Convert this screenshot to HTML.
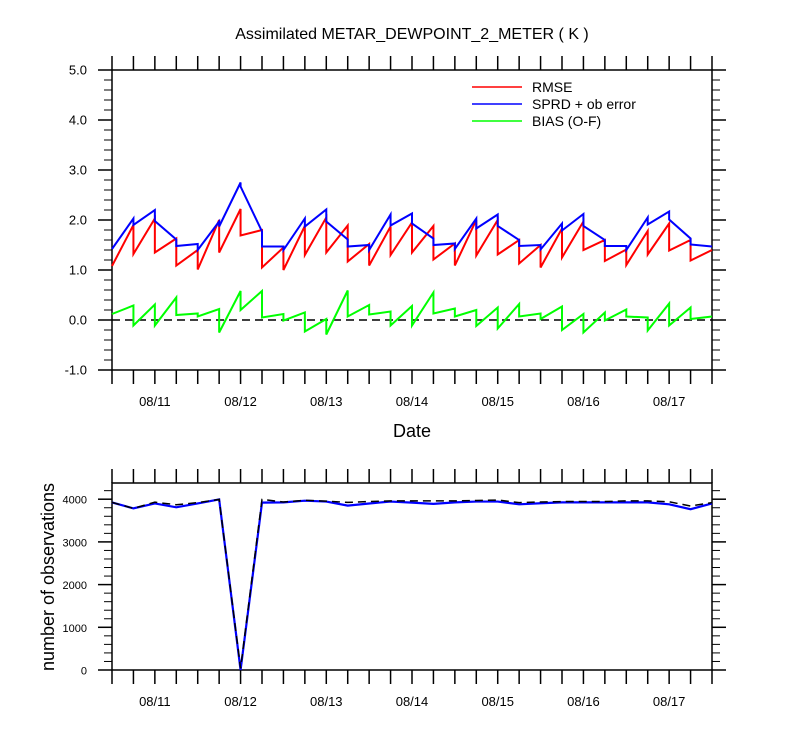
<!DOCTYPE html>
<html><head><meta charset="utf-8">
<style>
html,body{margin:0;padding:0;background:#fff;}
svg{display:block;font-family:"Liberation Sans",Arial,sans-serif;}
</style></head>
<body>
<svg id="chart" width="800" height="750" viewBox="0 0 800 750">
<text x="412" y="39" text-anchor="middle" font-size="16">Assimilated METAR_DEWPOINT_2_METER ( K )</text>
<text x="412" y="437" text-anchor="middle" font-size="18">Date</text>
<text transform="translate(54,577) rotate(-90)" text-anchor="middle" font-size="18">number of observations</text>
<g id="topPanel"></g>
<g id="botPanel"></g>
<g>
 <g><line x1="472" y1="87" x2="522" y2="87" stroke="#ff0000" stroke-width="1.5"/><text x="532" y="92" font-size="14">RMSE</text></g>
 <g><line x1="472" y1="104" x2="522" y2="104" stroke="#0000ff" stroke-width="1.5"/><text x="532" y="109" font-size="14">SPRD + ob error</text></g>
 <g><line x1="472" y1="121" x2="522" y2="121" stroke="#00ff00" stroke-width="1.5"/><text x="532" y="126" font-size="14">BIAS (O-F)</text></g>
</g>
</svg>
<script>
// time index: 0..28 (6-hourly from 08/10 12Z)
const dateLabels = ["08/11","08/12","08/13","08/14","08/15","08/16","08/17"];
const yTicksTop = ["-1.0","0.0","1.0","2.0","3.0","4.0","5.0"];
const yTicksBot = ["0","1000","2000","3000","4000"];
const rmsePrior = [1.08,1.90,2.03,1.63,1.40,2.00,2.22,1.80,1.45,1.88,2.05,1.89,1.52,1.87,1.95,1.88,1.53,2.00,2.00,1.60,1.50,1.83,1.97,1.60,1.41,1.78,1.93,1.60,1.40];
const rmsePost  = [1.08,1.32,1.35,1.09,1.01,1.35,1.69,1.05,1.00,1.30,1.35,1.17,1.09,1.30,1.35,1.21,1.09,1.29,1.31,1.13,1.05,1.25,1.40,1.18,1.10,1.31,1.39,1.19,1.40];
const sprdPrior = [1.42,2.03,2.20,1.61,1.52,1.97,2.75,1.77,1.47,2.03,2.21,1.61,1.50,2.11,2.13,1.63,1.53,2.03,2.11,1.60,1.50,1.93,2.12,1.60,1.48,2.05,2.17,1.63,1.47];
const sprdPost  = [1.42,1.90,1.98,1.48,1.40,1.87,2.67,1.47,1.40,1.87,1.97,1.47,1.40,1.89,1.93,1.50,1.42,1.83,1.88,1.48,1.41,1.79,1.88,1.48,1.40,1.91,2.01,1.51,1.47];
const biasPrior = [0.12,0.29,0.31,0.45,0.13,0.22,0.58,0.58,0.12,0.15,0.02,0.59,0.30,0.17,0.28,0.55,0.23,0.20,0.25,0.32,0.13,0.27,0.12,0.15,0.21,0.05,0.33,0.25,0.07];
const biasPost  = [0.12,-0.11,-0.11,0.10,0.07,-0.25,0.20,0.05,-0.01,-0.23,-0.29,0.07,0.11,-0.11,-0.11,0.13,0.07,-0.12,-0.17,0.07,0.02,-0.20,-0.25,-0.01,0.07,-0.21,-0.11,0.02,0.07];
const obsUsed = [3925,3785,3900,3810,3900,3995,0,3920,3925,3965,3945,3850,3900,3945,3920,3890,3925,3945,3945,3880,3905,3925,3925,3925,3925,3925,3880,3765,3900];
const obsPoss  = [3925,3785,3930,3870,3920,3995,40,3995,3935,3975,3955,3925,3945,3960,3960,3960,3960,3970,3980,3920,3935,3945,3945,3945,3960,3960,3940,3840,3920];

const NS="http://www.w3.org/2000/svg";
const L=112,R=712;
const xs=i=>L+(R-L)*i/28;
const yT=v=>320-v*50;
const yB=v=>670-v*0.0427;
function mk(tag,attrs,parent){const e=document.createElementNS(NS,tag);for(const k in attrs)e.setAttribute(k,attrs[k]);parent.appendChild(e);return e;}
const topG=document.getElementById('topPanel'), botG=document.getElementById('botPanel');

function frame(g,y0,y1,yticksFn,majorVals,minorVals,labels,name){
  const f=mk('rect',{x:L,y:y0,width:R-L,height:y1-y0,fill:'none',stroke:'#000','stroke-width':1.5},g);
  
  
  for(let i=0;i<=28;i++){
    const x=xs(i);
    mk('line',{x1:x,y1:y0,x2:x,y2:y0-14,stroke:'#000','stroke-width':1.5},g);
    mk('line',{x1:x,y1:y1,x2:x,y2:y1+14,stroke:'#000','stroke-width':1.5},g);
  }
  dateLabels.forEach((d,k)=>{
    const t=mk('text',{x:xs(2+4*k),y:y1+36,'text-anchor':'middle','font-size':13},g);
    t.textContent=d;
    
    
  });
  majorVals.forEach((v,k)=>{
    const y=yticksFn(v);
    mk('line',{x1:L,y1:y,x2:L-14,y2:y,stroke:'#000','stroke-width':1.5},g);
    mk('line',{x1:R,y1:y,x2:R+14,y2:y,stroke:'#000','stroke-width':1.5},g);
    const t=mk('text',{x:L-25,y:y+4.5,'text-anchor':'end','font-size':name==='top'?13:11},g);
    t.textContent=labels[k];
    
    
  });
  minorVals.forEach(v=>{
    const y=yticksFn(v);
    mk('line',{x1:L,y1:y,x2:L-8,y2:y,stroke:'#000','stroke-width':1},g);
    mk('line',{x1:R,y1:y,x2:R+8,y2:y,stroke:'#000','stroke-width':1},g);
  });
}
const topMinor=[];for(let k=-5;k<25;k++){if(k%5!==0)topMinor.push(k/5);}
frame(topG,70,370,yT,yTicksTop.map(Number),topMinor,yTicksTop,'top');
const botMinor=[];for(let v=200;v<=4200;v+=200){if(v%1000)botMinor.push(v);}
frame(botG,483,670,yB,yTicksBot.map(Number),botMinor,yTicksBot,'bot');

const z=mk('line',{x1:L,y1:yT(0),x2:R,y2:yT(0),stroke:'#000','stroke-width':1.5,'stroke-dasharray':'8,5'},topG);



function saw(prior,post,color,name){
  let d='M'+xs(0)+','+yT(post[0]);
  for(let i=1;i<prior.length;i++){d+=' L'+xs(i)+','+yT(prior[i])+' L'+xs(i)+','+yT(post[i]);}
  const p=mk('path',{d:d,fill:'none',stroke:color,'stroke-width':2,'stroke-linejoin':'miter'},topG);
  
  
}
saw(rmsePrior,rmsePost,'#ff0000','rmse-line');
saw(sprdPrior,sprdPost,'#0000ff','sprd-line');
saw(biasPrior,biasPost,'#00ff00','bias-line');

function line(vals,attrs,name){
  const d=vals.map((v,i)=>(i?'L':'M')+xs(i)+','+yB(v)).join(' ');
  const p=mk('path',Object.assign({d:d,fill:'none'},attrs),botG);
  
  
}
line(obsUsed,{stroke:'#0000ff','stroke-width':2.2},'obs-used-line');
line(obsPoss,{stroke:'#000','stroke-width':1.5,'stroke-dasharray':'8,5'},'obs-possible-line');
</script>
</body></html>
